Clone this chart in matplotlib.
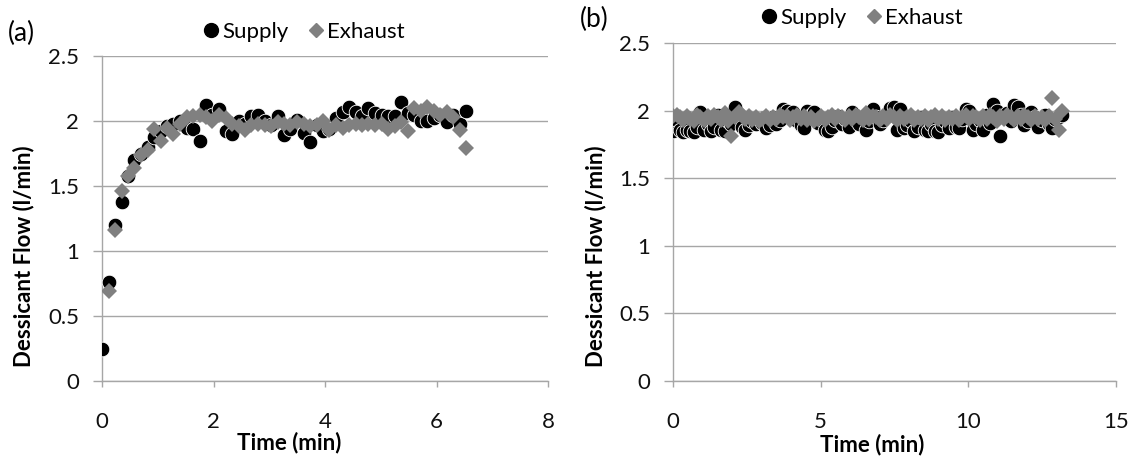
import numpy as np
import matplotlib
matplotlib.use("Agg")
import matplotlib.pyplot as plt
from matplotlib.lines import Line2D

plt.rcParams['font.family'] = ['Lato', 'DejaVu Sans']

# ---- (a) start-up run -------------------------------------------------------
time_a = [0.00, 0.12, 0.23, 0.35, 0.47, 0.58, 0.70, 0.82, 0.93, 1.05,
          1.17, 1.28, 1.40, 1.52, 1.63, 1.75, 1.87, 1.98, 2.10, 2.22,
          2.33, 2.45, 2.57, 2.68, 2.80, 2.92, 3.03, 3.15, 3.27, 3.38,
          3.50, 3.62, 3.73, 3.85, 3.97, 4.08, 4.20, 4.32, 4.43, 4.55,
          4.67, 4.78, 4.90, 5.02, 5.13, 5.25, 5.37, 5.48, 5.60, 5.72,
          5.83, 5.95, 6.07, 6.18, 6.30, 6.42, 6.53]
supply_a = [0.25, 0.76, 1.20, 1.38, 1.58, 1.70, 1.75, 1.80, 1.88, 1.92,
            1.96, 1.98, 2.00, 1.95, 1.94, 1.85, 2.12, 2.05, 2.09, 1.92,
            1.90, 2.00, 1.98, 2.04, 2.05, 2.00, 1.97, 2.04, 1.89, 1.94,
            2.01, 1.91, 1.84, 1.97, 1.92, 1.94, 2.02, 2.07, 2.11, 2.07,
            2.04, 2.10, 2.06, 2.05, 2.04, 2.04, 2.15, 2.06, 2.05, 2.00,
            2.00, 2.02, 2.05, 1.99, 2.05, 1.98, 2.08]
exhaust_a = [np.nan, 0.69, 1.16, 1.46, 1.58, 1.64, 1.74, 1.78, 1.94, 1.85,
             1.95, 1.90, 1.98, 2.03, 2.04, 2.05, 2.03, 2.00, 2.05, 2.02,
             1.98, 1.96, 1.93, 1.97, 1.98, 1.97, 1.96, 1.99, 1.98, 1.97,
             1.99, 1.98, 1.96, 1.97, 2.00, 1.93, 1.97, 1.95, 1.97, 1.98,
             1.97, 1.98, 1.97, 1.98, 1.94, 1.96, 1.99, 1.92, 2.10, 2.08,
             2.11, 2.08, 2.05, 2.07, 2.03, 1.93, 1.79]

# ---- (b) steady run ---------------------------------------------------------
time_b = [0.00, 0.12, 0.23, 0.35, 0.47, 0.58, 0.70, 0.82, 0.93, 1.05,
          1.17, 1.28, 1.40, 1.52, 1.63, 1.75, 1.87, 1.98, 2.10, 2.22,
          2.33, 2.45, 2.57, 2.68, 2.80, 2.92, 3.03, 3.15, 3.27, 3.38,
          3.50, 3.62, 3.73, 3.85, 3.97, 4.08, 4.20, 4.32, 4.43, 4.55,
          4.67, 4.78, 4.90, 5.02, 5.13, 5.25, 5.37, 5.48, 5.60, 5.72,
          5.83, 5.95, 6.07, 6.18, 6.30, 6.42, 6.53, 6.65, 6.77, 6.88,
          7.00, 7.12, 7.23, 7.35, 7.47, 7.58, 7.70, 7.82, 7.93, 8.05,
          8.17, 8.28, 8.40, 8.52, 8.63, 8.75, 8.87, 8.98, 9.10, 9.22,
          9.33, 9.45, 9.57, 9.68, 9.80, 9.92, 10.03, 10.15, 10.27, 10.38,
          10.50, 10.62, 10.73, 10.85, 10.97, 11.08, 11.20, 11.32, 11.43, 11.55,
          11.67, 11.78, 11.90, 12.02, 12.13, 12.25, 12.37, 12.48, 12.60, 12.72,
          12.83, 12.95, 13.07, 13.18]
supply_b = [1.85, 1.93, 1.86, 1.84, 1.86, 1.85, 1.84, 1.88, 1.99, 1.86,
            1.90, 1.85, 1.88, 1.97, 1.86, 1.85, 1.92, 1.90, 2.03, 1.95,
            1.88, 1.86, 1.89, 1.92, 1.90, 1.94, 1.91, 1.87, 1.89, 1.95,
            1.90, 1.93, 2.01, 2.00, 1.96, 1.99, 1.92, 1.89, 1.87, 2.00,
            1.97, 1.99, 1.91, 1.94, 1.86, 1.85, 1.88, 1.93, 1.96, 1.90,
            1.94, 1.88, 1.99, 1.93, 1.90, 1.95, 1.86, 1.92, 2.01, 1.95,
            1.90, 1.93, 1.96, 2.02, 2.03, 1.86, 2.01, 1.87, 1.89, 1.92,
            1.85, 1.88, 1.95, 1.86, 1.85, 1.90, 1.85, 1.84, 1.89, 1.92,
            1.87, 1.95, 1.88, 1.87, 1.94, 2.01, 2.00, 1.86, 1.90, 1.93,
            1.86, 1.97, 1.91, 2.05, 2.00, 1.81, 1.96, 1.98, 1.92, 2.04,
            2.03, 1.97, 1.89, 1.92, 1.99, 1.95, 1.88, 1.93, 1.97, 1.90,
            1.87, 1.94, 1.95, 1.97]
exhaust_b = [1.96, 1.97, 1.95, 1.93, 1.96, 1.94, 1.92, 1.97, 1.95, 1.93,
             1.96, 1.94, 1.97, 1.95, 1.93, 1.98, 1.92, 1.81, 1.95, 1.99,
             1.97, 1.94, 1.96, 1.93, 1.95, 1.92, 1.94, 1.96, 1.93, 1.95,
             1.94, 1.97, 1.95, 1.96, 1.93, 1.95, 1.97, 1.94, 1.96, 1.93,
             1.95, 1.92, 1.94, 1.96, 1.93, 1.95, 1.97, 1.94, 1.96, 1.95,
             1.93, 1.96, 1.94, 1.97, 1.95, 1.93, 1.98, 1.94, 1.96, 1.95,
             1.93, 1.96, 1.94, 1.97, 1.95, 1.93, 1.96, 1.94, 1.95, 1.97,
             1.93, 1.95, 1.94, 1.96, 1.93, 1.95, 1.97, 1.94, 1.96, 1.93,
             1.95, 1.94, 1.96, 1.93, 1.95, 1.97, 1.94, 1.96, 1.95, 1.93,
             1.96, 1.94, 1.97, 1.95, 1.92, 1.96, 1.94, 1.97, 1.95, 1.93,
             1.96, 1.94, 1.97, 1.95, 1.93, 1.96, 1.94, 1.95, 1.93, 1.96,
             2.09, 1.94, 1.86, 2.00]

y_ticks = [0, 0.5, 1, 1.5, 2, 2.5]
y_tick_labels = ['0', '0.5', '1', '1.5', '2', '2.5']
x_ticks_a = [0, 2, 4, 6, 8]
x_ticks_b = [0, 5, 10, 15]
series_names = ['Supply', 'Exhaust']
x_title = 'Time (min)'
y_title = 'Dessicant Flow (l/min)'

W, H = 1134, 459
fig = plt.figure(figsize=(W / 100, H / 100), dpi=100)

AX_GRAY = '#a6a6a6'
SUPPLY_COLOR = '#000000'
EXHAUST_COLOR = '#808080'
TICK_FS = 16
LABEL_FS = 16


def px_rect(x0, y_top, x1, y_bot):
    return [x0 / W, 1 - y_bot / H, (x1 - x0) / W, (y_bot - y_top) / H]


def style_axes(ax, xlim, xticks, xlabel_x, ylabel_x, ylabel_y):
    ax.set_xlim(*xlim)
    ax.set_ylim(0, 2.5)
    ax.set_yticks(y_ticks)
    ax.set_yticklabels(y_tick_labels)
    ax.set_xticks(xticks)
    ax.set_xticklabels([str(v) for v in xticks])
    ax.grid(axis='y', color=AX_GRAY, lw=1.0)
    ax.set_axisbelow(True)
    for s in ('top', 'right'):
        ax.spines[s].set_visible(False)
    for s in ('left', 'bottom'):
        ax.spines[s].set_color(AX_GRAY)
        ax.spines[s].set_linewidth(1.0)
    ax.tick_params(axis='y', direction='out', length=6.5, width=1.0,
                   color=AX_GRAY, pad=10, labelsize=TICK_FS, labelcolor='#111111')
    ax.tick_params(axis='x', direction='out', length=4.5, width=1.0,
                   color=AX_GRAY, pad=18, labelsize=TICK_FS, labelcolor='#111111')
    ax.set_xlabel(x_title, fontsize=LABEL_FS, fontweight='bold')
    ax.set_ylabel(y_title, fontsize=LABEL_FS, fontweight='bold')
    ax.xaxis.set_label_coords(xlabel_x, -0.155)
    ax.yaxis.set_label_coords(ylabel_x, ylabel_y)


def draw_series(ax, t, sup, exh):
    ax.plot(t, sup, ls='none', marker='o', ms=10.5, mfc=SUPPLY_COLOR,
            mec='white', mew=0.6, zorder=3)
    ax.plot(t, exh, ls='none', marker='D', ms=8, mfc=EXHAUST_COLOR,
            mec=EXHAUST_COLOR, mew=0, zorder=4)


def add_legend(cx, cy):
    handles = [
        Line2D([], [], ls='none', marker='o', ms=10, mfc=SUPPLY_COLOR,
               mec=SUPPLY_COLOR),
        Line2D([], [], ls='none', marker='D', ms=7.5, mfc=EXHAUST_COLOR,
               mec=EXHAUST_COLOR),
    ]
    fig.legend(handles, series_names, loc='center',
               bbox_to_anchor=(cx / W, 1 - cy / H), ncol=2, frameon=False,
               fontsize=TICK_FS, handlelength=0.7, handletextpad=0.15,
               columnspacing=0.9, borderpad=0, borderaxespad=0)


ax_a = fig.add_axes(px_rect(102, 56, 548, 381))
draw_series(ax_a, time_a, supply_a, exhaust_a)
style_axes(ax_a, (0, 8), x_ticks_a, 0.42, -0.152, 0.385)
add_legend(304, 32)

ax_b = fig.add_axes(px_rect(673, 43, 1116, 381))
draw_series(ax_b, time_b, supply_b, exhaust_b)
style_axes(ax_b, (0, 15), x_ticks_b, 0.45, -0.151, 0.37)
add_legend(862, 18)

fig.text(8 / W, 1 - 33 / H, '(a)', fontsize=19, va='center', ha='left')
fig.text(580 / W, 1 - 19 / H, '(b)', fontsize=19, va='center', ha='left')

fig.savefig('out.png', dpi=100, facecolor='white')
